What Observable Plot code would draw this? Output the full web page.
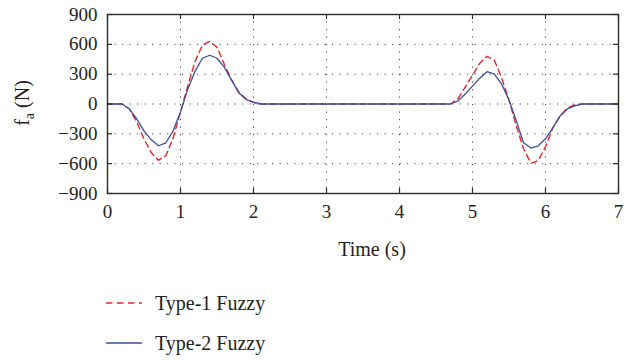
<!DOCTYPE html>
<html>
<head>
<meta charset="utf-8">
<script src="https://cdn.jsdelivr.net/npm/d3@7"></script>
<script src="https://cdn.jsdelivr.net/npm/@observablehq/plot@0.6"></script>
<style>
  body { margin: 0; background: #fff; width: 635px; height: 360px; overflow: hidden; }
  svg text { font-family: "Liberation Serif", Tinos, "Times New Roman", "DejaVu Serif", serif !important; fill: #231f20; }
  #legend { font-family: "Liberation Serif", Tinos, "Times New Roman", "DejaVu Serif", serif; font-size: 20px; color: #231f20; padding-top: 18px; }
  .row { display: flex; align-items: center; height: 40px; }
  .row svg { margin-left: 106px; margin-right: 13px; }
</style>
</head>
<body>
<div id="chart"></div>
<div id="legend"></div>
<script>
// Time (s) and force (N)
const time1 = [0, 0.1, 0.2, 0.3, 0.4, 0.5, 0.6, 0.7, 0.8, 0.9, 1.0, 1.1, 1.2, 1.3, 1.4, 1.5, 1.6, 1.7, 1.8, 1.9, 2.0, 2.1, 4.7, 4.8, 4.9, 5.0, 5.1, 5.2, 5.3, 5.4, 5.5, 5.6, 5.7, 5.8, 5.9, 6.0, 6.1, 6.2, 6.3, 6.4, 6.5, 7.0];
const type1 = [0, 0, 0, -50, -180, -350, -490, -565, -520, -340, -80, 180, 430, 590, 630, 570, 400, 240, 120, 50, 15, 0, 0, 50, 170, 290, 410, 480, 440, 260, 40, -220, -450, -595, -570, -430, -240, -120, -40, -10, 0, 0];
const time2 = [0, 0.1, 0.2, 0.3, 0.4, 0.5, 0.6, 0.7, 0.8, 0.9, 1.0, 1.1, 1.2, 1.3, 1.4, 1.5, 1.6, 1.7, 1.8, 1.9, 2.0, 2.1, 4.7, 4.8, 4.9, 5.0, 5.1, 5.2, 5.3, 5.4, 5.5, 5.6, 5.7, 5.8, 5.9, 6.0, 6.1, 6.2, 6.3, 6.4, 6.5, 7.0];
const type2 = [0, 0, 0, -50, -150, -270, -360, -420, -390, -270, -80, 150, 330, 460, 490, 460, 370, 240, 110, 45, 20, 0, 0, 30, 100, 180, 260, 325, 300, 200, 40, -170, -390, -443, -420, -350, -240, -120, -50, -20, 0, 0];
const seriesNames = ["Type-1 Fuzzy", "Type-2 Fuzzy"];
const xTicks = [0, 1, 2, 3, 4, 5, 6, 7];
const yTicks = [-900, -600, -300, 0, 300, 600, 900];
const xLabel = "Time (s)";

const colors = ["#e3262d", "#3c4e9e"];
const d1 = time1.map((t, i) => ({t, v: type1[i]}));
const d2 = time2.map((t, i) => ({t, v: type2[i]}));
const fmt = d => d < 0 ? "\u2212" + Math.abs(d) : String(d);

const W = 635, H = 265, mL = 107, mR = 17, mT = 14, mB = 72;
const fw = W - mL - mR, fh = H - mT - mB, tk = 5;
const ink = "#2b2b2b";

const plot = Plot.plot({
  width: W, height: H,
  marginLeft: mL, marginRight: mR, marginTop: mT, marginBottom: mB,
  style: {fontSize: "19px", color: "#231f20", background: "#fff", overflow: "visible"},
  x: {domain: [0, 7]},
  y: {domain: [-900, 900]},
  marks: [
    Plot.gridX(xTicks.slice(1, -1), {stroke: "#333", strokeOpacity: 0.9, strokeDasharray: "1.2,6.3", strokeWidth: 1}),
    Plot.gridY(yTicks.slice(1, -1), {stroke: "#333", strokeOpacity: 0.9, strokeDasharray: "1.2,6.3", strokeWidth: 1}),
    Plot.line(d1, {x: "t", y: "v", stroke: colors[0], strokeWidth: 1.4, strokeDasharray: "6,4"}),
    Plot.line(d2, {x: "t", y: "v", stroke: colors[1], strokeWidth: 1.3}),
    Plot.tickX(xTicks, {x: d => d, insetTop: fh - tk, stroke: ink, strokeWidth: 1.2}),
    Plot.tickX(xTicks, {x: d => d, insetBottom: fh - tk, stroke: ink, strokeWidth: 1.2}),
    Plot.tickY(yTicks, {y: d => d, insetRight: fw - tk, stroke: ink, strokeWidth: 1.2}),
    Plot.tickY(yTicks, {y: d => d, insetLeft: fw - tk, stroke: ink, strokeWidth: 1.2}),
    Plot.frame({stroke: ink, strokeWidth: 1.4}),
    Plot.axisX(xTicks, {tickSize: 0, tickPadding: 11, label: null, tickFormat: fmt, fontSize: 19}),
    Plot.axisY(yTicks, {tickSize: 0, tickPadding: 10, label: null, tickFormat: fmt, fontSize: 19})
  ]
});

const svg = d3.select(plot);
svg.append("text")
  .attr("x", 372).attr("y", 256)
  .attr("text-anchor", "middle")
  .attr("font-size", 20)
  .text(xLabel);

const yl = svg.append("text")
  .attr("transform", "translate(29,103) rotate(-90)")
  .attr("text-anchor", "middle")
  .attr("font-size", 20);
yl.append("tspan").text("f");
yl.append("tspan").attr("font-size", 14).attr("dy", 5).text("a");
yl.append("tspan").attr("dy", -5).text(" (N)");

document.getElementById("chart").appendChild(plot);

const legend = d3.select("#legend");
seriesNames.forEach((name, i) => {
  const row = legend.append("div").attr("class", "row");
  const s = row.append("svg").attr("width", 36).attr("height", 4);
  s.append("line").attr("x1", 0).attr("x2", 36).attr("y1", 2).attr("y2", 2)
    .attr("stroke", colors[i]).attr("stroke-width", 1.4)
    .attr("stroke-dasharray", i === 0 ? "6.5,4.5" : null);
  row.append("span").text(name);
});
</script>
</body>
</html>
